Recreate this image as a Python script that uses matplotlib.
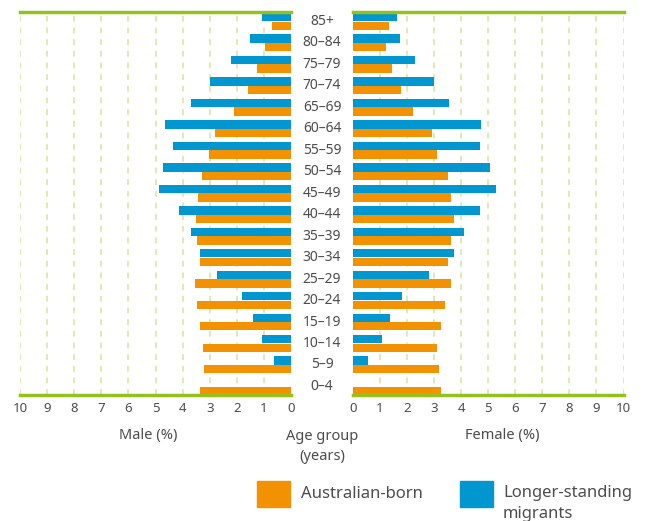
import matplotlib
matplotlib.use("Agg")
from matplotlib import pyplot as plt
from matplotlib.patches import Rectangle

plt.rcParams['font.family'] = ['Noto Sans', 'DejaVu Sans']

# age groups, top to bottom
ages = ['85+', '80–84', '75–79', '70–74', '65–69', '60–64', '55–59', '50–54', '45–49',
        '40–44', '35–39', '30–34', '25–29', '20–24', '15–19', '10–14', '5–9', '0–4']

male_aus = [0.70, 0.96, 1.25, 1.59, 2.10, 2.80, 3.03, 3.28, 3.43,
            3.51, 3.47, 3.36, 3.54, 3.47, 3.36, 3.25, 3.21, 3.36]
male_mig = [1.07, 1.51, 2.21, 2.99, 3.69, 4.65, 4.35, 4.72, 4.87,
            4.13, 3.69, 3.36, 2.73, 1.81, 1.40, 1.07, 0.63, 0.0]
female_aus = [1.33, 1.22, 1.44, 1.77, 2.22, 2.92, 3.10, 3.51, 3.62,
              3.73, 3.62, 3.51, 3.62, 3.40, 3.25, 3.10, 3.18, 3.25]
female_mig = [1.63, 1.74, 2.29, 2.99, 3.55, 4.73, 4.69, 5.06, 5.28,
              4.69, 4.10, 3.73, 2.81, 1.81, 1.37, 1.07, 0.55, 0.0]

ticks = [0, 1, 2, 3, 4, 5, 6, 7, 8, 9, 10]

orange = '#f39200'
blue = '#0096cf'
green = '#95c11f'
grid_green = '#d8e8ac'
text_col = '#4d4d4d'

fig = plt.figure(figsize=(6.52, 5.21), dpi=100)
W, H = 652.0, 521.0
bottom = 1 - 395 / H
height = (395 - 12) / H
ax_l = fig.add_axes([20 / W, bottom, (291 - 20) / W, height])
ax_r = fig.add_axes([353 / W, bottom, (623.5 - 353) / W, height])

rows = list(range(len(ages)))
bh = 0.39
for ax, aus, mig in [(ax_l, male_aus, male_mig), (ax_r, female_aus, female_mig)]:
    ax.barh([r + 0.2 for r in rows], aus, height=bh, color=orange, zorder=3)
    ax.barh([r - 0.2 for r in rows], mig, height=bh, color=blue, zorder=3)
    ax.set_ylim(17.4, -0.44)
    ax.set_yticks([])
    for t in ticks[1:]:
        ax.axvline(t, color=grid_green, lw=1.2, ls=(0, (3.5, 3.5)), zorder=1)
    for s in ['left', 'right']:
        ax.spines[s].set_visible(False)
    for s in ['top', 'bottom']:
        ax.spines[s].set_color(green)
        ax.spines[s].set_linewidth(2.5)
        ax.spines[s].set_zorder(4)
    ax.set_xticks(ticks)
    ax.tick_params(axis='x', length=0, pad=5, labelsize=9.5, labelcolor=text_col)

ax_l.set_xlim(10, 0)
ax_r.set_xlim(0, 10)

# age group labels in the middle
for r, a in zip(rows, ages):
    y = ax_l.transData.transform((0, r))[1]
    fig.text(322 / W, y / fig.bbox.height, a,
             ha='center', va='center', fontsize=10, color=text_col)

fig.text(148 / W, 1 - 436 / H, 'Male (%)', ha='center', va='center', fontsize=10.5, color=text_col)
fig.text(502 / W, 1 - 436 / H, 'Female (%)', ha='center', va='center', fontsize=10.5, color=text_col)
fig.text(322 / W, 1 - 436 / H, 'Age group', ha='center', va='center', fontsize=10.5, color=text_col)
fig.text(322 / W, 1 - 457 / H, '(years)', ha='center', va='center', fontsize=10.5, color=text_col)

# legend
fig.patches.append(Rectangle((257 / W, 1 - 507 / H), 33 / W, 26 / H,
                             transform=fig.transFigure, color=orange))
fig.patches.append(Rectangle((460 / W, 1 - 507 / H), 33 / W, 26 / H,
                             transform=fig.transFigure, color=blue))
fig.text(301 / W, 1 - 494 / H, 'Australian-born', ha='left', va='center', fontsize=12, color=text_col)
fig.text(503 / W, 1 - 493 / H, 'Longer-standing', ha='left', va='center', fontsize=12, color=text_col)
fig.text(503 / W, 1 - 514 / H, 'migrants', ha='left', va='center', fontsize=12, color=text_col)

fig.savefig('out.png', dpi=100)
